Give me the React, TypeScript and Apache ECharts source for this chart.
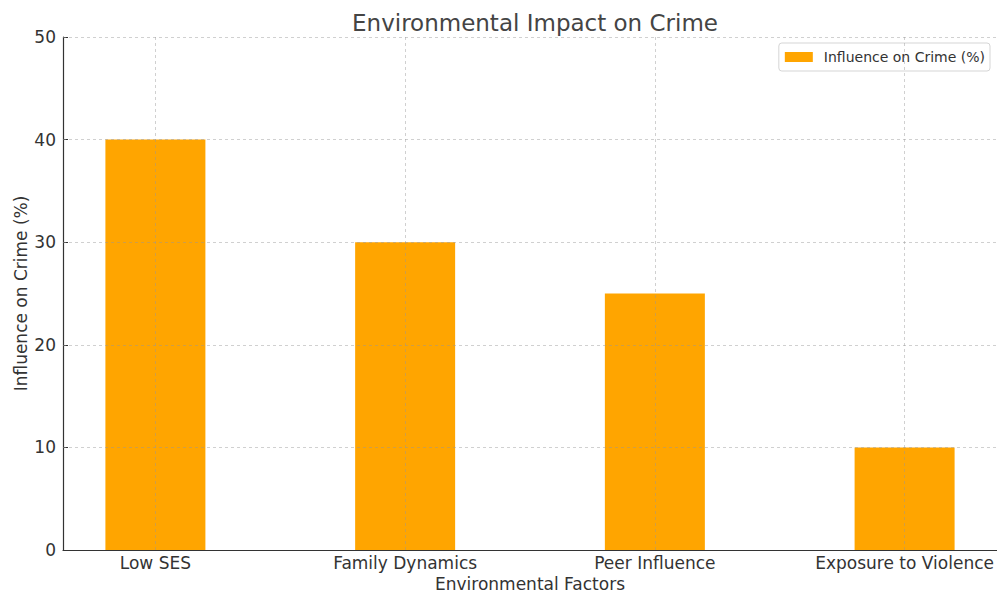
import React, { useEffect, useRef } from "react";
import * as echarts from "echarts";

const categories = ["Low SES", "Family Dynamics", "Peer Influence", "Exposure to Violence"];
const influenceValues = [40, 30, 25, 10];
const yTicks = [10, 20, 30, 40, 50];
const yMin = 0;
const yMax = 50;
const seriesName = "Influence on Crime (%)";

const FONT = "DejaVu Sans";
const TEXT = "#333333";
const GRID_COLOR = "rgba(150,150,150,0.45)";

export default function App() {
  const ref = useRef<HTMLDivElement>(null);
  useEffect(() => {
    if (!ref.current) return;
    const chart = echarts.init(ref.current, undefined, { renderer: "svg" });
    const idx = categories.map((_, i) => i);
    const xMin = -0.37;
    const xMax = 3.37;
    chart.setOption({
      animation: false,
      backgroundColor: "#ffffff",
      textStyle: { fontFamily: FONT },
      title: {
        text: "Environmental Impact on Crime",
        left: 530,
        top: 6,
        textAlign: "center",
        textStyle: { fontFamily: FONT, fontSize: 23, fontWeight: "normal", color: "#444444" },
      },
      legend: {
        right: 7,
        top: 43,
        backgroundColor: "#ffffff",
        borderColor: "#d5d5d5",
        borderWidth: 1,
        borderRadius: 3,
        padding: [7, 5, 7, 6],
        itemWidth: 28,
        itemHeight: 10,
        itemGap: 10,
        textStyle: { fontFamily: FONT, fontSize: 14, color: TEXT, padding: [0, 0, 0, 6] },
        data: [{ name: seriesName, icon: "rect" }],
      },
      grid: { left: 63, right: 0, top: 37, bottom: 43, containLabel: false, outerBoundsMode: "none" },
      xAxis: {
        type: "value",
        min: xMin,
        max: xMax,
        name: "Environmental Factors",
        nameLocation: "middle",
        nameGap: 23,
        nameTextStyle: { fontFamily: FONT, fontSize: 17, color: TEXT },
        axisLine: { show: true, onZero: false, lineStyle: { color: "#333333", width: 1.2 } },
        axisTick: { show: true, inside: true, length: 5, customValues: idx, lineStyle: { color: "#333333" } },
        axisLabel: {
          customValues: idx,
          formatter: (v: number) => categories[Math.round(v)] ?? "",
          fontFamily: FONT,
          fontSize: 17,
          color: TEXT,
          margin: 4,
        },
        splitLine: { show: false },
      },
      yAxis: {
        type: "value",
        min: yMin,
        max: yMax,
        interval: 10,
        name: "Influence on Crime (%)",
        nameLocation: "middle",
        nameGap: 34,
        nameMoveOverlap: false,
        nameRotate: 90,
        nameTextStyle: { fontFamily: FONT, fontSize: 17, color: TEXT },
        axisLine: { show: true, onZero: false, lineStyle: { color: "#333333", width: 1.2 } },
        axisTick: { show: true, inside: true, length: 5, lineStyle: { color: "#333333" } },
        axisLabel: { fontFamily: FONT, fontSize: 17, color: TEXT, margin: 7 },
        splitLine: { show: false },
      },
      series: [
        {
          name: seriesName,
          type: "bar",
          barWidth: 100,
          itemStyle: { color: "#FFA500" },
          data: categories.map((_, i) => [i, influenceValues[i]]),
          markLine: {
            silent: true,
            symbol: ["none", "none"],
            label: { show: false },
            lineStyle: { color: GRID_COLOR, type: [3, 3], width: 1 },
            data: [
              ...yTicks.map((v) => [{ coord: [xMin, v] }, { coord: [xMax, v] }]),
              ...idx.map((v) => [{ coord: [v, yMin] }, { coord: [v, yMax] }]),
            ],
          },
        },
      ],
    });
    return () => chart.dispose();
  }, []);
  return <div ref={ref} style={{ width: 997, height: 593, position: "absolute", left: 0, top: 0 }} />;
}
